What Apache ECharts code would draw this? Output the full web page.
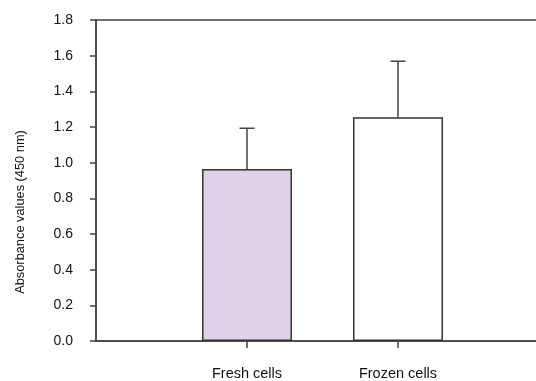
<!DOCTYPE html>
<html><head><meta charset="utf-8">
<script src="https://cdn.jsdelivr.net/npm/echarts@6/dist/echarts.min.js"></script>
<style>html,body{margin:0;padding:0;background:#fff}#c{width:536px;height:381px}</style>
</head><body><div id="c"></div>
<script>
const categories = ['', 'Fresh cells', 'Frozen cells', ''];
const means = [null, 0.965, 1.255, null];
const errors = [null, 0.228, 0.314, null];
const barColors = ['#fff', '#ddd0e8', '#ffffff', '#fff'];
const yTitle = 'Absorbance values (450 nm)';

const chart = echarts.init(document.getElementById('c'), null, {renderer: 'canvas'});
const font = 'Liberation Sans, Arial, sans-serif';
const barData = means.map((v, i) => v == null ? null : ({value: v, itemStyle: {color: barColors[i]}}));
const errData = means.map((v, i) => v == null ? null : [i, v, v + errors[i]]).filter(d => d);

chart.setOption({
  animation: false,
  grid: {left: 96, top: 20, width: 453, height: 321, outerBoundsMode: 'none', containLabel: false,
         show: true, borderColor: '#444', borderWidth: 1.5, backgroundColor: 'transparent'},
  xAxis: {
    type: 'category', data: categories, boundaryGap: false,
    axisLine: {lineStyle: {color: '#444', width: 1.5}},
    axisTick: {show: true, length: 7, interval: (i) => i === 1 || i === 2, lineStyle: {color: '#444', width: 1.5}},
    axisLabel: {interval: 0, color: '#111', fontFamily: font, fontSize: 14.5, margin: 25},
    splitLine: {show: false}
  },
  yAxis: {
    type: 'value', min: 0, max: 1.8, interval: 0.2,
    axisLine: {show: true, lineStyle: {color: '#444', width: 1.5}},
    axisTick: {show: true, inside: false, length: 6, lineStyle: {color: '#444', width: 1.5}},
    axisLabel: {color: '#111', fontFamily: font, fontSize: 14, margin: 23, formatter: v => v.toFixed(1)},
    splitLine: {show: false}
  },
  graphic: [{
    type: 'text', x: 20, y: 212, rotation: Math.PI / 2,
    style: {text: yTitle, fill: '#111', font: '12.8px ' + font, textAlign: 'center', textVerticalAlign: 'middle'}
  }],
  series: [{
    type: 'bar', data: barData, barWidth: 90,
    itemStyle: {borderColor: '#333', borderWidth: 1.5}
  }, {
    type: 'custom', data: errData, z: 1,
    renderItem: function (params, api) {
      const x = api.value(0);
      const p0 = api.coord([x, api.value(1)]);
      const p1 = api.coord([x, api.value(2)]);
      const hw = 7.5;
      return {type: 'group', children: [
        {type: 'line', shape: {x1: p0[0], y1: p0[1], x2: p1[0], y2: p1[1]}, style: {stroke: '#444', lineWidth: 1.5}},
        {type: 'line', shape: {x1: p1[0] - hw, y1: p1[1], x2: p1[0] + hw, y2: p1[1]}, style: {stroke: '#444', lineWidth: 1.5}}
      ]};
    }
  }]
});
</script></body></html>
